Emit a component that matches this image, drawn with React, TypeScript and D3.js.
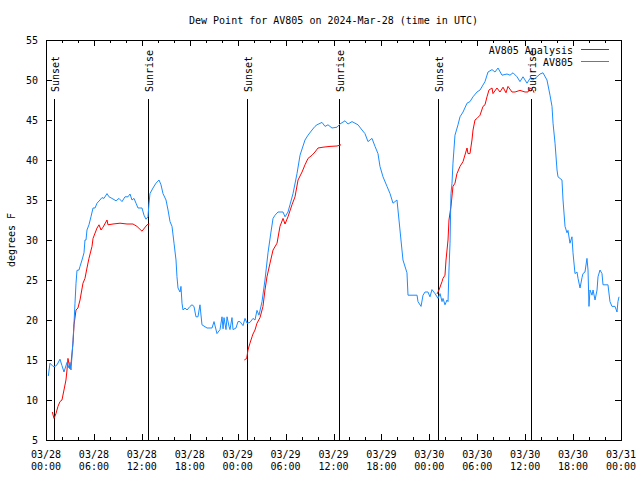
import React from "react";
import * as d3 from "d3";

const TITLE = "Dew Point for AV805 on 2024-Mar-28 (time in UTC)";
const Y_LABEL = "degrees F";
const SERIES_NAMES = ["AV805 Analysis", "AV805"];
const Y_TICKS = [5, 10, 15, 20, 25, 30, 35, 40, 45, 50, 55];

// hours after 2024-03-28 00:00 UTC
const sunEventHours = [1.04, 12.8, 25.13, 36.73, 49.13, 60.77];
const sunEventLabels = ["Sunset", "Sunrise", "Sunset", "Sunrise", "Sunset", "Sunrise"];

// AV805 observations: [hour, dew point F]
const av805: [number, number][] = [
  [0.29, 13.0], [0.5, 14.6], [0.88, 14.2], [1.13, 14.2], [1.38, 14.4], [1.75, 15.1], [2.0, 14.3],
  [2.25, 13.5], [2.63, 14.7], [2.88, 14.0], [3.0, 14.7], [3.13, 13.75], [3.26, 15.6], [3.38, 17.4],
  [3.51, 19.6], [3.63, 22.1], [3.76, 24.6], [3.88, 26.2], [4.13, 26.25], [4.26, 26.7], [4.51, 27.5],
  [4.76, 28.4], [4.88, 30.0], [5.01, 30.0], [5.13, 31.25], [5.38, 31.9], [5.63, 32.9], [5.89, 34.0],
  [6.14, 34.0], [6.39, 34.6], [6.76, 35.0], [7.01, 35.3], [7.26, 35.2], [7.64, 35.8], [7.89, 35.4],
  [8.26, 35.2], [8.77, 34.9], [9.14, 35.2], [9.52, 34.8], [9.89, 35.4], [10.27, 35.4], [10.52, 35.75],
  [10.77, 35.0], [11.02, 35.2], [11.27, 34.6], [11.52, 34.0], [12.02, 34.0], [12.27, 33.1], [12.52, 32.6],
  [12.77, 32.9], [12.9, 34.6], [13.02, 35.8], [13.4, 36.5], [13.77, 37.1], [14.15, 37.5], [14.4, 36.9],
  [14.65, 35.8], [15.03, 35.0], [15.28, 33.75], [15.53, 32.3], [15.78, 31.7], [16.03, 29.6], [16.28, 27.5],
  [16.4, 25.4], [16.53, 24.0], [16.78, 23.5], [16.9, 24.2], [17.03, 22.1], [17.16, 21.25], [17.41, 21.5],
  [17.66, 21.25], [18.03, 21.7], [18.28, 21.9], [18.53, 21.7], [18.78, 20.4], [19.03, 20.4], [19.28, 21.9],
  [19.53, 19.4], [20.16, 19.0], [20.79, 19.0], [21.04, 19.8], [21.41, 18.3], [21.79, 18.8], [22.04, 20.4],
  [22.17, 18.9], [22.29, 20.3], [22.54, 18.8], [22.67, 20.4], [22.92, 19.2], [23.04, 18.8], [23.29, 20.3],
  [23.42, 18.8], [23.79, 19.0], [24.04, 19.8], [24.29, 19.8], [24.67, 19.3], [24.92, 20.2], [25.17, 19.6],
  [25.54, 19.7], [25.92, 20.2], [26.17, 20.0], [26.42, 21.2], [26.67, 20.6], [27.05, 22.3], [27.42, 25.0],
  [27.8, 28.4], [28.17, 31.0], [28.43, 32.7], [28.68, 33.1], [29.05, 33.5], [29.68, 33.5], [29.93, 32.9],
  [30.3, 33.5], [30.55, 34.4], [30.93, 35.8], [31.43, 38.3], [31.81, 40.6], [32.43, 42.5], [32.81, 43.1],
  [33.31, 43.75], [33.68, 44.2], [33.93, 44.4], [34.56, 44.7], [34.94, 44.2], [35.31, 44.4], [35.81, 44.0],
  [36.44, 44.1], [36.81, 44.5], [37.44, 44.9], [37.82, 44.5], [38.32, 44.8], [38.69, 44.6], [39.07, 44.4],
  [39.57, 43.75], [39.94, 43.3], [40.32, 42.3], [40.82, 42.7], [41.2, 41.7], [41.57, 40.8], [41.82, 39.2],
  [42.2, 37.9], [42.7, 36.7], [43.08, 35.8], [43.45, 34.6], [43.95, 35.0], [44.2, 32.5], [44.45, 30.0],
  [44.7, 27.5], [45.2, 25.9], [45.33, 23.1], [45.96, 23.1], [46.46, 23.1], [46.58, 22.3], [46.96, 21.7],
  [47.21, 23.1], [47.46, 23.5], [47.83, 23.5], [48.08, 22.9], [48.33, 23.8], [48.71, 23.3], [49.09, 22.7],
  [49.34, 23.3], [49.59, 22.3], [49.71, 22.7], [49.96, 21.9], [50.21, 22.5], [50.34, 22.3], [50.46, 26.25],
  [50.59, 29.6], [50.71, 35.8], [50.84, 37.1], [50.96, 39.6], [51.21, 43.1], [51.59, 44.4], [51.84, 45.4],
  [52.22, 46.0], [52.72, 47.1], [53.09, 47.3], [53.47, 47.9], [53.97, 48.5], [54.35, 48.75], [54.97, 49.8],
  [55.35, 51.0], [55.85, 51.3], [56.22, 51.0], [56.6, 51.5], [57.1, 50.6], [57.73, 50.75], [58.1, 50.6],
  [58.48, 50.9], [58.98, 50.4], [59.35, 49.8], [59.73, 50.4], [60.23, 49.6], [60.61, 50.2], [60.98, 50.0],
  [61.48, 50.4], [61.86, 50.75], [62.23, 50.9], [62.73, 50.0], [63.11, 48.1], [63.36, 46.7], [63.49, 44.6],
  [63.74, 42.1], [63.99, 38.75], [64.11, 37.9], [64.61, 37.5], [64.74, 35.0], [64.99, 31.7], [65.24, 30.9],
  [65.36, 31.2], [65.61, 29.6], [65.86, 30.4], [65.99, 28.4], [66.24, 25.8], [66.49, 26.0], [66.62, 25.2],
  [66.87, 24.0], [67.12, 25.3], [67.24, 25.8], [67.49, 26.0], [67.74, 27.7], [67.87, 26.25], [67.99, 21.7],
  [68.12, 23.75], [68.37, 23.1], [68.5, 23.75], [68.75, 22.5], [69.0, 23.75], [69.12, 25.4], [69.37, 26.25],
  [69.62, 25.8], [69.75, 24.4], [70.25, 24.4], [70.37, 24.4], [70.62, 22.3], [70.87, 21.7], [71.25, 21.7],
  [71.5, 21.0], [71.62, 22.3], [71.75, 22.9],
];

// AV805 Analysis, three separate runs
const analysisDay1: [number, number][] = [
  [0.79, 8.5], [1.0, 7.7], [1.25, 8.3], [1.5, 9.2], [1.75, 9.8], [2.0, 10.0], [2.25, 11.25], [2.5, 12.5],
  [2.63, 13.75], [2.75, 15.2], [3.0, 13.9], [3.13, 14.5], [3.38, 17.1], [3.51, 19.4], [3.76, 21.25],
  [4.0, 21.5], [4.26, 22.5], [4.63, 24.6], [4.88, 25.2], [5.13, 26.5], [5.38, 27.7], [5.76, 29.2],
  [5.89, 30.2], [6.39, 31.5], [6.64, 31.9], [6.89, 31.25], [7.14, 31.6], [7.64, 32.5], [7.76, 31.9],
  [8.39, 32.0], [9.27, 32.1], [10.14, 32.0], [10.89, 32.0], [11.39, 31.7], [12.02, 31.1], [12.65, 31.9],
  [12.94, 32.0],
];
const analysisDay2: [number, number][] = [
  [24.83, 15.0], [25.13, 15.2], [25.29, 16.25], [25.54, 17.1], [25.8, 17.9], [25.92, 18.25], [26.17, 18.75],
  [26.42, 19.6], [26.8, 20.3], [27.17, 21.7], [27.42, 23.75], [27.67, 25.4], [28.05, 27.1], [28.43, 28.75],
  [28.93, 29.6], [29.3, 31.7], [29.68, 32.7], [29.93, 32.0], [30.3, 32.9], [30.8, 34.4], [31.18, 35.4],
  [31.56, 37.5], [32.06, 38.5], [32.43, 39.4], [32.81, 40.2], [33.31, 40.6], [33.68, 41.0], [34.06, 41.5],
  [34.69, 41.6], [35.56, 41.7], [36.44, 41.75], [36.94, 41.9],
];
const analysisDay3: [number, number][] = [
  [48.96, 23.25], [49.21, 23.75], [49.59, 24.8], [49.71, 25.2], [49.96, 25.6], [50.09, 27.5], [50.34, 30.0],
  [50.46, 32.5], [50.71, 34.2], [50.96, 36.7], [51.21, 37.1], [51.46, 38.3], [51.84, 39.2], [52.22, 39.8],
  [52.72, 41.5], [52.84, 40.8], [53.09, 40.8], [53.34, 42.5], [53.47, 43.75], [53.72, 45.0], [53.97, 45.2],
  [54.35, 45.6], [54.72, 46.7], [54.97, 46.9], [55.22, 47.9], [55.47, 48.75], [55.85, 49.0], [55.97, 48.3],
  [56.47, 49.0], [56.85, 48.5], [57.23, 49.1], [57.6, 48.4], [57.85, 49.2], [58.35, 48.5], [58.73, 48.5],
  [59.35, 48.7], [59.98, 48.5], [60.35, 48.5], [60.61, 49.0], [60.98, 48.75], [61.11, 48.4],
];

const T0 = Date.UTC(2024, 2, 28, 0, 0);
const toDate = (h: number) => new Date(T0 + h * 3600 * 1000);

const W = 640;
const H = 480;
const M = { left: 46, right: 621, top: 40, bottom: 440 };
const FONT = "'DejaVu Sans Mono', 'Liberation Mono', monospace";
const RED = "#ff0000";
const BLUE = "#1a8cff";

export default function App() {
  const x = d3.scaleUtc().domain([toDate(0), toDate(72)]).range([M.left, M.right]);
  const y = d3.scaleLinear().domain([5, 55]).range([M.bottom, M.top]);
  const line = d3
    .line<[number, number]>()
    .x((d) => x(toDate(d[0])))
    .y((d) => y(d[1]));

  const majorTicks = x.ticks(d3.utcHour.every(6)!);
  const minorTicks = x.ticks(d3.utcHour.every(2)!);
  const fDate = d3.utcFormat("%m/%d");
  const fTime = d3.utcFormat("%H:%M");

  return (
    <svg width={W} height={H} style={{ position: "absolute", left: 0, top: 0 }} fontFamily={FONT} fontSize={10}>
      <rect x={0} y={0} width={W} height={H} fill="#fff" />
      <text x={(M.left + M.right) / 2} y={24} textAnchor="middle" fill="#000">
        {TITLE}
      </text>
      <text transform={`translate(15,${(M.top + M.bottom) / 2}) rotate(-90)`} textAnchor="middle" fill="#000">
        {Y_LABEL}
      </text>

      {/* ticks */}
      <g shapeRendering="crispEdges" stroke="#000">
        {Y_TICKS.map((t) => (
          <g key={t}>
            <line x1={M.left} x2={M.left + 6} y1={Math.round(y(t)) + 0.5} y2={Math.round(y(t)) + 0.5} />
            <line x1={M.right - 6} x2={M.right} y1={Math.round(y(t)) + 0.5} y2={Math.round(y(t)) + 0.5} />
          </g>
        ))}
        {minorTicks.map((t, i) => {
          const xx = Math.round(x(t)) + 0.5;
          const major = t.getUTCHours() % 6 === 0;
          const len = major ? 6 : 3;
          return (
            <g key={i}>
              <line x1={xx} x2={xx} y1={M.bottom} y2={M.bottom - len} />
              <line x1={xx} x2={xx} y1={M.top} y2={M.top + len} />
            </g>
          );
        })}
      </g>
      {Y_TICKS.map((t) => (
        <text key={t} x={38} y={y(t)} dy="0.35em" textAnchor="end" fill="#000">
          {t}
        </text>
      ))}
      {majorTicks.map((t, i) => (
        <text key={i} x={x(t)} textAnchor="middle" fill="#000">
          <tspan x={x(t)} y={458}>
            {fDate(t)}
          </tspan>
          <tspan x={x(t)} y={470}>
            {fTime(t)}
          </tspan>
        </text>
      ))}

      {/* sunrise / sunset markers */}
      {sunEventHours.map((h, i) => {
        const xx = Math.round(x(toDate(h))) + 0.5;
        return (
          <g key={i}>
            <line x1={xx} x2={xx} y1={y(47.6)} y2={M.bottom} stroke="#000" shapeRendering="crispEdges" />
            <text transform={`translate(${xx + 4.5},92) rotate(-90)`} textAnchor="start" fill="#000">
              {sunEventLabels[i]}
            </text>
          </g>
        );
      })}

      {/* data */}
      {[analysisDay1, analysisDay2, analysisDay3].map((seg, i) => (
        <path key={i} d={line(seg) || ""} fill="none" stroke={RED} strokeWidth={1} />
      ))}
      <path d={line(av805) || ""} fill="none" stroke={BLUE} strokeWidth={1} />

      {/* legend */}
      <text x={573} y={54} textAnchor="end" fill="#000">
        {SERIES_NAMES[0]}
      </text>
      <line x1={581} x2={609} y1={49.5} y2={49.5} stroke={RED} shapeRendering="crispEdges" />
      <text x={573} y={66} textAnchor="end" fill="#000">
        {SERIES_NAMES[1]}
      </text>
      <line x1={581} x2={609} y1={61.5} y2={61.5} stroke={BLUE} shapeRendering="crispEdges" />

      {/* border */}
      <rect
        x={M.left + 0.5}
        y={M.top + 0.5}
        width={M.right - M.left}
        height={M.bottom - M.top}
        fill="none"
        stroke="#000"
        shapeRendering="crispEdges"
      />
    </svg>
  );
}
